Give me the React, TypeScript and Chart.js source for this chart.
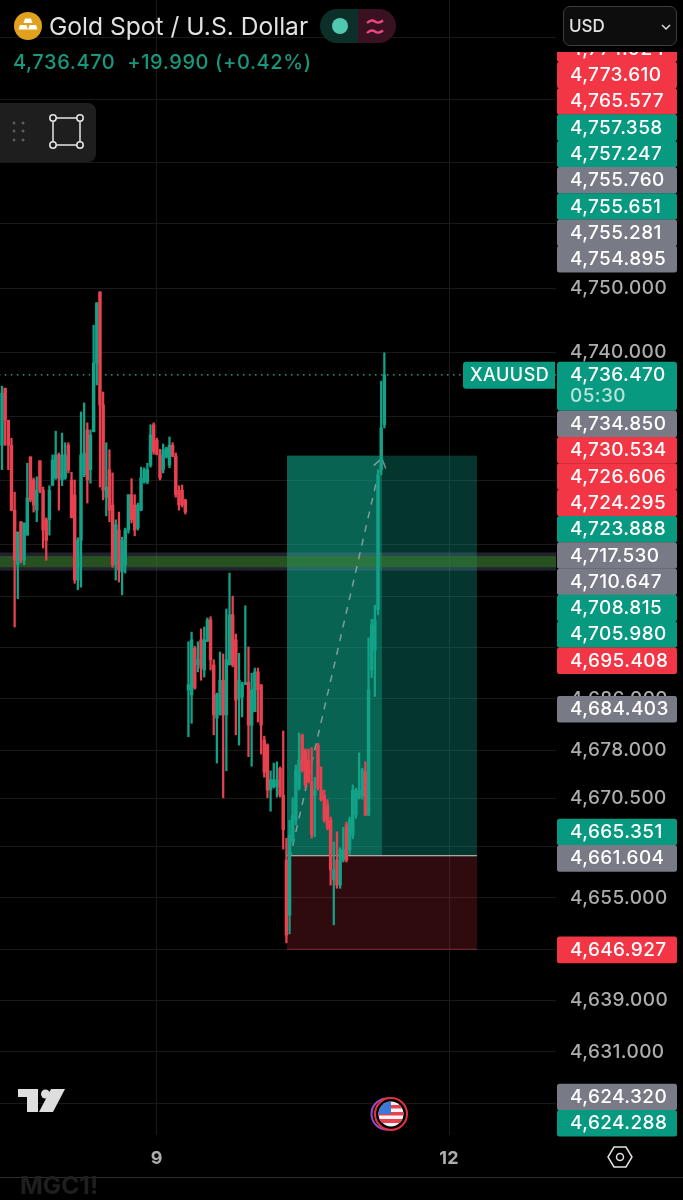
import React, { useEffect, useRef } from "react";
import Chart from "chart.js/auto";

const highs = [4734.7,4734.4,4729.4,4726.6,4718.2,4712,4713.6,4713.4,4722.7,4723.7,4720.4,4720.6,4723.1,4719,4714.2,4719.2,4724,4727.7,4724.3,4727.4,4725.9,4725.9,4721.3,4720.1,4711.1,4730.7,4732.1,4729,4727.9,4744.2,4747.7,4749.4,4733.8,4725.9,4724.8,4721.2,4713.9,4715.1,4711.2,4712.6,4717.8,4720.3,4717.8,4716.5,4722.1,4722,4722.7,4728.7,4729,4726.6,4724.9,4725.7,4725.2,4726.8,4725.9,4724.3,4719.2,4719.3,4717.1,4694.9,4696.4,4694.2,4694.9,4696.9,4697.2,4698.6,4698.8,4692.1,4686.9,4693.3,4693,4700,4705.6,4702,4696.1,4693.1,4688.6,4700.5,4694.1,4690,4690.8,4690.8,4688.2,4680.2,4679,4674.8,4676,4676.2,4675.4,4681,4664.3,4667.1,4670.6,4675.7,4680.7,4680.5,4678.2,4678.2,4678.4,4673.8,4679.1,4675.4,4671.8,4670.3,4667.6,4663.7,4665.3,4662.8,4666,4666.8,4667.6,4672.6,4672.1,4677.6,4675.2,4676.2,4695.5,4698.4,4700.6,4721.7,4735.5,4739.9];
const lows = [4721.7,4725.5,4721.7,4715.3,4697.2,4701.6,4707.2,4706.9,4711.5,4716.7,4715.1,4713.6,4718.1,4709.5,4707.6,4711.5,4719.2,4720.2,4715.4,4719.2,4720.2,4721.2,4714.2,4704,4703,4703.4,4720.6,4716.5,4719.6,4727.6,4734.9,4719,4717,4714.5,4713.6,4706.5,4704.5,4704.2,4702.2,4705.6,4711.8,4713.4,4711.4,4712.3,4715.3,4719.6,4719.5,4722.1,4724.1,4724,4720.1,4721.2,4723.5,4722,4723.7,4717.4,4715.4,4715.9,4714.8,4680.1,4682.2,4687.5,4690.2,4688.9,4689.4,4694.9,4690.5,4680.4,4676,4683.5,4670.6,4674.8,4691.3,4691,4680.4,4678.8,4683.2,4688.3,4677,4675.5,4684,4682.4,4677.4,4673.8,4670.6,4668.5,4672.1,4670.7,4670.7,4662.6,4648,4649.4,4663.7,4666.4,4671.8,4674.6,4672.1,4672.9,4664.3,4664.5,4671.8,4670.1,4666.8,4665.6,4657,4650.8,4656.5,4656.5,4660.6,4660.6,4661.8,4664.2,4667.4,4670.4,4670.4,4667.8,4667.8,4689.3,4686.4,4699.1,4720.9,4728.2];
const opens = [4725.5,4734.4,4729.4,4725.5,4715.4,4706.9,4713.6,4707.6,4711.5,4723.7,4720.1,4715.4,4723.1,4718.5,4713.9,4713.9,4719.3,4720.4,4724,4720.1,4720.4,4725.5,4720.1,4717.8,4704.5,4710.7,4720.9,4727.9,4721.7,4727.6,4738.3,4749.4,4731.8,4717.4,4721.7,4716.2,4706.9,4712.3,4705.8,4706.9,4712.3,4717.8,4716.2,4712.6,4715.4,4719.8,4719.8,4722.4,4728.7,4726.3,4724,4721.7,4723.7,4722.4,4725.5,4723.8,4718.5,4718.5,4717,4687.4,4686.6,4693.9,4691.3,4695.2,4690.5,4695,4698.3,4691.3,4683,4683.5,4688.9,4683.5,4691.3,4699.1,4695.2,4686.1,4686.3,4688.2,4688.6,4681.9,4684,4690.2,4688.2,4679.6,4678.8,4671.8,4672.3,4672.3,4675.2,4671,4660.9,4652.3,4663.7,4667.1,4672.1,4680.4,4678,4676.5,4673.1,4671,4678.8,4671.8,4671,4669.5,4667.1,4657.8,4660.9,4657,4660.9,4666.4,4662.5,4664.8,4667.9,4670.6,4671,4674.6,4667.9,4690.5,4693.6,4699.9,4721.7,4728.7];
const closes = [4733.6,4729.4,4725.5,4715.4,4707.6,4712,4707.6,4713.4,4717.3,4717,4716.2,4718.5,4718.5,4712.3,4710.7,4718.5,4723.2,4724,4720.4,4724,4724,4721.6,4714.2,4704.5,4710.7,4724,4724.3,4720.1,4727.1,4738.3,4747.7,4731.8,4718.5,4719,4715.4,4706.9,4713.1,4706.1,4710.7,4712.3,4717.8,4713.9,4712.3,4716.2,4720.4,4721.7,4721.7,4727.1,4724.5,4724.1,4720.4,4724.8,4725.1,4725.5,4723.8,4717.8,4716.2,4716.2,4715.1,4688.2,4695.2,4687.7,4692.1,4690.8,4695.2,4698.3,4692.1,4683.5,4686.6,4688.9,4683.5,4692.1,4699.1,4691.3,4685.8,4688.9,4688.2,4688.6,4681.9,4687.4,4690.2,4687.4,4681.9,4674.6,4671.8,4673.4,4673.4,4673.4,4671,4665.6,4649.2,4664.8,4667.9,4674.9,4676.5,4674.9,4672.6,4673.1,4664.8,4671.8,4672.1,4670.3,4667.1,4665.9,4659.4,4659.4,4657,4662.5,4662.5,4660.9,4667.1,4671.8,4671.8,4671.8,4674.9,4667.9,4687.4,4697.5,4698.3,4720.9,4728.2,4736.47];

const yTicks = [4789,4779.3,4769.5,4760,4750,4740,4730,4720,4710,4702,4694,4686,4678,4670.5,4663,4655,4647,4639,4631,4623];
const yLabelled = [4750,4740,4686,4678,4670.5,4655,4639,4631];
const xTicks = [49,141.5];
const xTickLabels = ["9","12"];

const topStack = [4774.924,4773.61,4765.577,4757.358,4757.247,4755.76,4755.651,4755.281,4754.895];
const topKinds = ["red","red","red","green","green","grey","green","grey","grey"];
const midStack = [4734.85,4730.534,4726.606,4724.295,4723.888,4717.53,4710.647,4708.815,4705.98,4695.408];
const midKinds = ["grey","red","red","red","green","grey","grey","green","green","red"];
const lowStacks = [
  { prices: [4684.403], kinds: ["grey"] },
  { prices: [4665.351,4661.604], kinds: ["green","grey"] },
  { prices: [4646.927], kinds: ["red"] },
  { prices: [4624.32,4624.288], kinds: ["grey","green"] },
];
const lastPrice = 4736.47;
const targetPrice = 4723.888;
const entryPrice = 4661.604;
const stopPrice = 4646.927;
const positionBars = [90.2,120.25,150.3];
const zoneOuter = [4708.815,4705.98];
const zoneInner = [4708.25,4706.5];
const arrowPath = [{x:91,y:4661},{x:120.2,y:4723.5}];
const priceLineGaps = [-1,27.9,32.6,180];

const RED = "#e8414f";
const GREEN = "#12a288";
const TAG: Record<string,string> = { red:"#f23645", green:"#089981", grey:"#787b86" };
const FONT = "Inter, 'Noto Sans', sans-serif";
const LS = "0.4px";
const fmt = (v:number) => v.toLocaleString("en-US",{minimumFractionDigits:3,maximumFractionDigits:3});

const overlayPlugin = {
  id:"overlay",
  beforeDraw(chart:any){
    chart.ctx.letterSpacing=LS;
  },
  beforeDatasetsDraw(chart:any){
    const {ctx,scales:{x,y},chartArea:a} = chart;
    const rect=(x0:number,x1:number,y0:number,y1:number,c:string)=>{ctx.fillStyle=c;ctx.fillRect(x0,y0,x1-x0,y1-y0);};
    const [bl,bm,br]=positionBars.map((v)=>x.getPixelForValue(v));
    const yt=y.getPixelForValue(targetPrice),ye=y.getPixelForValue(entryPrice),ys=y.getPixelForValue(stopPrice);
    rect(bl,bm,yt,ye,"rgba(15,165,138,0.6)");
    rect(bm,br,yt,ye,"rgba(15,165,138,0.33)");
    rect(bl,br,ye,ys,"rgba(242,54,69,0.2)");
    rect(bl,br,ys-1,ys,"rgba(160,50,60,0.6)");
    rect(a.left,a.right,y.getPixelForValue(zoneOuter[0]),y.getPixelForValue(zoneOuter[1]),"rgba(120,120,170,0.28)");
    rect(a.left,a.right,y.getPixelForValue(zoneInner[0]),y.getPixelForValue(zoneInner[1]),"rgba(45,130,20,0.5)");
    rect(bl,br,ye-0.5,ye+0.8,"#a8a8a8");
    const p0={x:x.getPixelForValue(arrowPath[0].x),y:y.getPixelForValue(arrowPath[0].y)};
    const p1={x:x.getPixelForValue(arrowPath[1].x),y:y.getPixelForValue(arrowPath[1].y)};
    const ang=Math.atan2(p1.y-p0.y,p1.x-p0.x);
    ctx.save();ctx.strokeStyle="rgba(200,200,200,0.6)";ctx.lineWidth=1.5;
    ctx.beginPath();
    [2.55,-2.55].forEach((d)=>{ctx.moveTo(p1.x,p1.y);ctx.lineTo(p1.x+Math.cos(ang+d)*11,p1.y+Math.sin(ang+d)*11);});
    ctx.stroke();ctx.restore();
  },
  afterDraw(chart:any){
    const {ctx,scales:{y}} = chart;
    const h=26.3,l=557,w=120,tx=570;
    const text=(s:string,px:number,py:number,c="#fff",size=19,ls=LS)=>{ctx.fillStyle=c;ctx.letterSpacing=ls;ctx.font=`500 ${size}px ${FONT}`;ctx.textAlign="left";ctx.textBaseline="middle";ctx.fillText(s,px,py+0.5);};
    const tag=(p:number,k:string,cy:number)=>{ctx.fillStyle=TAG[k];ctx.beginPath();ctx.roundRect(l,cy-h/2,w,h+0.3,2.5);ctx.fill();text(fmt(p),tx,cy);};
    ctx.save();
    ctx.save();ctx.beginPath();ctx.rect(l,52,w,300);ctx.clip();
    const a1=y.getPixelForValue(topStack[topStack.length-1])+2.4;
    topStack.forEach((p,i)=>tag(p,topKinds[i],a1-(topStack.length-1-i)*h));
    ctx.restore();
    const lc=y.getPixelForValue(lastPrice);
    ctx.fillStyle=TAG.green;ctx.beginPath();ctx.roundRect(463,lc-13,92,27,[3,0,0,3]);ctx.fill();
    text("XAUUSD",470,lc,"#fff",18,"0.5px");
    ctx.fillStyle=TAG.green;ctx.beginPath();ctx.roundRect(l,lc-13,w,49,3);ctx.fill();
    text(fmt(lastPrice),tx,lc);
    text("05:30",tx,lc+21,"#b6e2d8");
    midStack.forEach((p,i)=>tag(p,midKinds[i],lc+49+i*h));
    lowStacks.forEach((g,gi)=>{
      const a=y.getPixelForValue(g.prices[0])+(gi===3?2:gi===1?0.5:0);
      g.prices.forEach((p,i)=>tag(p,g.kinds[i],a+i*h));
    });
    ctx.restore();
  },
};

export default function App(){
  const ref=useRef<HTMLCanvasElement>(null);
  useEffect(()=>{
    document.body.style.margin="0";
    document.body.style.background="#000";
    const labels=highs.map((_,i)=>i);
    const colors=labels.map((i)=>closes[i]>=opens[i]?GREEN:RED);
    const chart=new Chart(ref.current!,{
      type:"bar",
      data:{datasets:[
        {type:"bar",label:"Body",data:labels.map((i)=>({x:i,y:[opens[i],closes[i]]})),backgroundColor:colors,barThickness:2.8,order:1,grouped:false} as any,
        {type:"bar",label:"Wick",data:labels.map((i)=>({x:i,y:[lows[i],highs[i]]})),backgroundColor:colors,barThickness:1.6,order:2,grouped:false} as any,
        {type:"line",label:"Trade path",data:arrowPath,borderColor:"rgba(200,200,200,0.6)",borderWidth:1.5,borderDash:[7,7],pointRadius:0,order:3} as any,
        {type:"line",label:"Last price",data:[{x:priceLineGaps[0],y:lastPrice},{x:priceLineGaps[1],y:lastPrice},{x:priceLineGaps[1],y:null},{x:priceLineGaps[2],y:lastPrice},{x:priceLineGaps[3],y:lastPrice}],borderColor:"#2ac0a0",borderWidth:1.3,borderDash:[1.5,4.5],pointRadius:0,spanGaps:false,order:4} as any,
      ]},
      options:{
        animation:false,responsive:false,
        layout:{padding:0},
        plugins:{legend:{display:false},tooltip:{enabled:false}},
        scales:{
          x:{type:"linear",min:-0.633,max:175.32,offset:false,
            afterBuildTicks:(s:any)=>{s.ticks=xTicks.map((value)=>({value}));},
            afterFit:(s:any)=>{s.height=65;s.paddingLeft=0;s.paddingRight=0;},
            grid:{color:"#191919",drawTicks:false,offset:false},border:{display:false},
            ticks:{autoSkip:false,maxRotation:0,padding:13,color:"#adadad",font:{family:FONT,size:18,weight:"bold"},
              callback:(v:any)=>xTickLabels[xTicks.indexOf(Number(v))]??""}},
          y:{type:"linear",position:"right",min:4618.07,max:4794.86,
            afterBuildTicks:(s:any)=>{s.ticks=yTicks.map((value)=>({value}));},
            afterFit:(s:any)=>{s.width=127;s.paddingTop=0;s.paddingBottom=0;},
            grid:{color:"#191919",drawTicks:false},border:{display:false},
            ticks:{autoSkip:false,padding:14,color:"#adadad",font:{family:FONT,size:19,weight:"500"},
              callback:(v:any)=>yLabelled.includes(Number(v))?fmt(Number(v)):""}},
        },
      },
      plugins:[overlayPlugin],
    } as any);
    return ()=>chart.destroy();
  },[]);

  const abs=(s:React.CSSProperties):React.CSSProperties=>({position:"absolute",...s});
  return (
    <div style={abs({left:0,top:0,width:683,height:1200,background:"#000",overflow:"hidden",fontFamily:FONT})}>
      <canvas ref={ref} width={683} height={1200} style={abs({left:0,top:0,width:683,height:1200})}/>
      <svg width={30} height={30} style={abs({left:13,top:11})} viewBox="0 0 30 30">
        <circle cx="15" cy="15" r="14" fill="#e0a11c"/>
        <path d="M12 7.500h6l1.500 4.500h-9zM7 14h6.500l1.500 4.500H5.500zM16.500 14H23l1.500 4.500h-9.500z" fill="#fff"/>
      </svg>
      <div style={abs({left:49,top:11,fontSize:24.6,lineHeight:"30px",color:"#e2e2e2",whiteSpace:"nowrap"})}>Gold Spot / U.S. Dollar</div>
      <div style={abs({left:13,top:49,fontSize:20,lineHeight:"26px",letterSpacing:"0.6px",color:"#17987f",whiteSpace:"nowrap",fontWeight:500})}>4,736.470&nbsp; +19.990 (+0.42%)</div>
      <svg width={76} height={36} style={abs({left:320,top:8})} viewBox="0 0 76 36">
        <path d="M17 1h21v34H17a17 17 0 0 1 0-34z" fill="#0c2f2a"/>
        <path d="M38 1h21a17 17 0 0 1 0 34H38z" fill="#3a1120"/>
        <circle cx="20" cy="18" r="8" fill="#4fc9b0"/>
        <path d="M47 15c3-3 6-3 8-1.500s5 1.500 8-1M47 25c3-3 6-3 8-1.500s5 1.500 8-1" fill="none" stroke="#f0457f" strokeWidth="2.400"/>
      </svg>
      <div style={abs({left:0,top:103,width:96,height:59,background:"#1e1e1e",borderRadius:"0 8px 8px 0"})}/>
      <svg width={96} height={59} style={abs({left:0,top:103})} viewBox="0 0 96 59">
        {[14,23].map((cx)=>[20,28,37].map((cy)=><circle key={`${cx}-${cy}`} cx={cx} cy={cy} r="1.500" fill="#5c5c5c"/>))}
        <rect x="53" y="15" width="27" height="27" fill="none" stroke="#e6e6e6" strokeWidth="1.500"/>
        {[[53,15],[80,15],[53,42],[80,42]].map(([cx,cy])=><circle key={`${cx}${cy}`} cx={cx} cy={cy} r="3.200" fill="#1e1e1e" stroke="#e6e6e6" strokeWidth="1.500"/>)}
      </svg>
      <div style={abs({left:563,top:6,width:112,height:38,boxSizing:"content-box",background:"#0d0d0d",border:"1.500px solid #3c3c3c",borderRadius:7})}>
        <span style={abs({left:5,top:0,fontSize:17,lineHeight:"38px",color:"#e2e2e2",fontWeight:500})}>USD</span>
        <svg width={10} height={8} style={abs({left:97,top:16})} viewBox="0 0 10 8"><path d="M1 2l4 4 4-4" fill="none" stroke="#ddd" strokeWidth="1.500"/></svg>
      </div>
      <svg width={50} height={26} style={abs({left:17,top:1088})} viewBox="0 0 50 26">
        <path d="M1 1h20v23H10V9H1z" fill="#dedede"/>
        <circle cx="28.500" cy="6" r="4.500" fill="#dedede"/>
        <path d="M34 1h14l-12 23H22z" fill="#dedede"/>
      </svg>
      <svg width={44} height={40} style={abs({left:366,top:1094})} viewBox="0 0 44 40">
        <defs><clipPath id="fl"><circle cx="25" cy="20" r="12.500"/></clipPath></defs>
        <circle cx="21" cy="20" r="15.500" fill="none" stroke="#9a4bc2" strokeWidth="2"/>
        <circle cx="25" cy="20" r="16" fill="#000" stroke="#e4303f" strokeWidth="2"/>
        <g clipPath="url(#fl)">
          <rect x="12" y="7" width="26" height="26" fill="#f4f4f4"/>
          <rect x="12" y="11" width="26" height="3.500" fill="#e8404f"/>
          <rect x="12" y="18" width="26" height="3.500" fill="#e8404f"/>
          <rect x="12" y="25" width="26" height="4" fill="#e8404f"/>
          <rect x="12" y="7" width="13" height="13" fill="#3c78d8"/>
        </g>
      </svg>
      <svg width={26} height={26} style={abs({left:607,top:1144})} viewBox="0 0 26 26">
        <path d="M7 3h12l6 10-6 10H7L1 13z" fill="none" stroke="#e2e2e2" strokeWidth="1.500"/>
        <circle cx="13" cy="13" r="3.500" fill="none" stroke="#e2e2e2" strokeWidth="1.500"/>
      </svg>
      <div style={abs({left:0,top:1177,width:683,height:1,background:"#2d2d2d"})}/>
      <div style={abs({left:20,top:1172,fontSize:24.5,lineHeight:"26px",color:"#1f1f1f",fontWeight:700})}>MGC1!</div>
    </div>
  );
}
